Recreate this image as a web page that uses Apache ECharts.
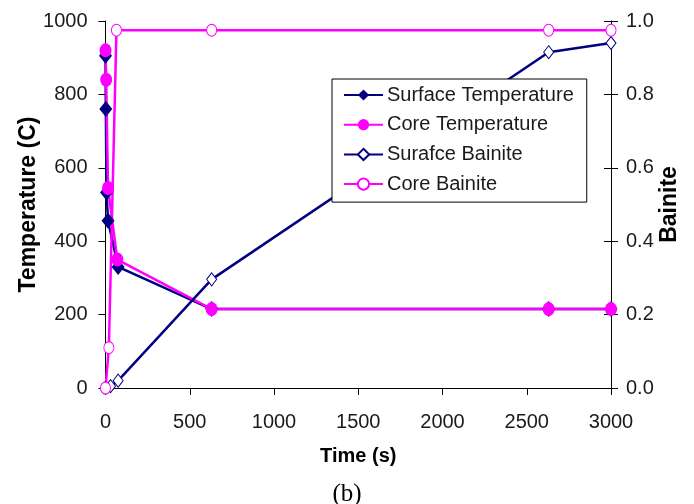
<!DOCTYPE html>
<html><head><meta charset="utf-8">
<script src="https://cdn.jsdelivr.net/npm/echarts@6/dist/echarts.min.js"></script>
<style>html,body{margin:0;padding:0;background:#fff}#c{width:694px;height:504px}</style>
</head><body><div id="c"></div>
<script>
// Data
var surfTempTime = [0, 2, 6, 15, 75, 630, 2630, 3000];
var surfTempVals = [905, 760, 533, 456, 330, 215, 215, 215];
var coreTempTime = [0, 4, 15, 70, 630, 2630, 3000];
var coreTempVals = [920, 840, 545, 350, 215, 215, 215];
var surfBainTime = [0, 30, 75, 630, 2630, 3000];
var surfBainVals = [0, 0.005, 0.02, 0.296, 0.915, 0.94];
var coreBainTime = [0, 20, 65, 630, 2630, 3000];
var coreBainVals = [0, 0.11, 0.975, 0.975, 0.975, 0.975];
var seriesNames = ['Surface Temperature', 'Core Temperature', 'Surafce Bainite', 'Core Bainite'];

function pairs(t, v) { return t.map(function (x, i) { return [x, v[i]]; }); }

var NAVY = '#000080', MAG = '#FF00FF';
var font = 'Liberation Sans, Arial, sans-serif';
var lblColor = '#1a1a1a';
var chart = echarts.init(document.getElementById('c'), null, {renderer: 'canvas'});
chart.setOption({
  animation: false,
  backgroundColor: '#fff',
  title: {
    text: '(b)', left: 'center', top: 477,
    textStyle: {fontFamily: 'Liberation Serif, Times New Roman, serif', fontSize: 25, fontWeight: 'normal', color: '#000'}
  },
  grid: {left: 105.5, right: 83, top: 21, bottom: 116, show: false},
  legend: {
    orient: 'vertical', left: 332, top: 79,
    backgroundColor: '#fff', borderColor: '#000', borderWidth: 1,
    padding: [6, 13, 8, 11], itemGap: 9.7, itemWidth: 39, itemHeight: 14,
    textStyle: {fontFamily: font, fontSize: 20, color: lblColor, padding: [0, 0, 0, -1]},
    data: seriesNames
  },
  xAxis: {
    type: 'value', min: 0, max: 3000, interval: 500,
    name: 'Time (s)', nameLocation: 'middle', nameGap: 58, nameMoveOverlap: false,
    nameTextStyle: {fontFamily: font, fontSize: 20, fontWeight: 'bold', color: '#000'},
    axisLine: {show: true, lineStyle: {color: '#000', width: 1}},
    axisTick: {show: true, length: 7, lineStyle: {color: '#000'}},
    axisLabel: {fontFamily: font, fontSize: 20, color: lblColor, margin: 24,
      formatter: function (v) { return String(v); }},
    splitLine: {show: false}
  },
  yAxis: [{
    type: 'value', min: 0, max: 1000, interval: 200,
    name: 'Temperature (C)', nameLocation: 'middle', nameGap: 65, nameRotate: 90, nameMoveOverlap: false,
    nameTextStyle: {fontFamily: font, fontSize: 23, fontWeight: 'bold', color: '#000'},
    axisLine: {show: true, lineStyle: {color: '#000', width: 1}},
    axisTick: {show: true, length: 7, lineStyle: {color: '#000'}},
    axisLabel: {fontFamily: font, fontSize: 20, color: lblColor, margin: 18,
      formatter: function (v) { return String(v); }},
    splitLine: {show: false}
  }, {
    type: 'value', min: 0, max: 1, interval: 0.2, position: 'right',
    name: 'Bainite', nameLocation: 'middle', nameGap: 47, nameRotate: 90, nameMoveOverlap: false,
    nameTextStyle: {fontFamily: font, fontSize: 23, fontWeight: 'bold', color: '#000'},
    axisLine: {show: true, lineStyle: {color: '#000', width: 1}},
    axisTick: {show: true, length: 7, lineStyle: {color: '#000'}},
    axisLabel: {fontFamily: font, fontSize: 20, color: lblColor, margin: 15,
      formatter: function (v) { return v.toFixed(1); }},
    splitLine: {show: false}
  }, {
    // inner half of the crossing ticks on the right axis
    type: 'value', min: 0, max: 1, interval: 0.2, position: 'right',
    axisLine: {show: false},
    axisTick: {show: true, inside: true, length: 7, lineStyle: {color: '#000'}},
    axisLabel: {show: false},
    splitLine: {show: false}
  }],
  series: [{
    name: seriesNames[0], type: 'line', yAxisIndex: 0,
    data: pairs(surfTempTime, surfTempVals),
    symbol: 'diamond', symbolSize: [13, 16],
    lineStyle: {color: NAVY, width: 2.5}, itemStyle: {color: NAVY}
  }, {
    name: seriesNames[1], type: 'line', yAxisIndex: 0,
    data: pairs(coreTempTime, coreTempVals),
    symbol: 'circle', symbolSize: [12, 14],
    lineStyle: {color: MAG, width: 2.5}, itemStyle: {color: MAG}
  }, {
    name: seriesNames[2], type: 'line', yAxisIndex: 1,
    data: pairs(surfBainTime, surfBainVals),
    symbol: 'diamond', symbolSize: [10, 13], showAllSymbol: true,
    lineStyle: {color: NAVY, width: 2.5}, itemStyle: {color: '#fff', borderColor: NAVY, borderWidth: 1}
  }, {
    name: seriesNames[3], type: 'line', yAxisIndex: 1,
    data: pairs(coreBainTime, coreBainVals),
    symbol: 'circle', symbolSize: [10, 12], showAllSymbol: true,
    lineStyle: {color: MAG, width: 2.5}, itemStyle: {color: '#fff', borderColor: MAG, borderWidth: 1}
  }]
});
</script></body></html>
